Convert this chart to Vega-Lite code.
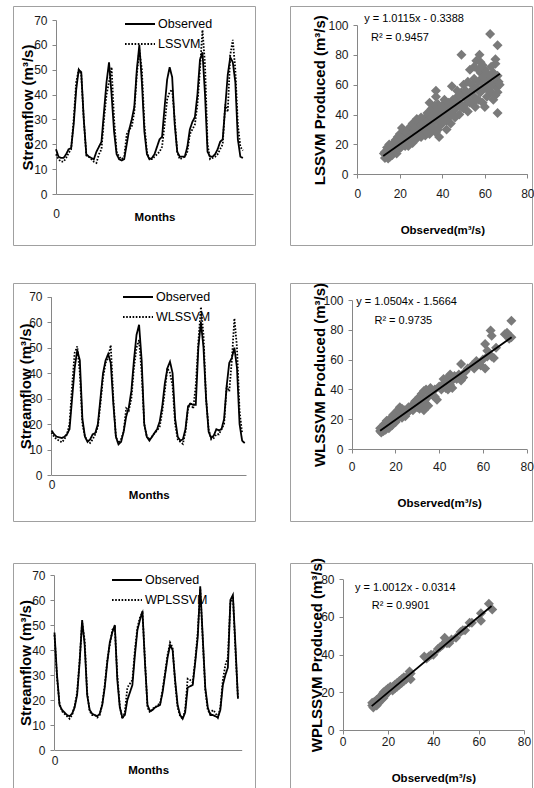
{
  "$schema": "https://vega.github.io/schema/vega-lite/v6.json",
  "padding": {"left": 12, "top": 5, "right": 0, "bottom": 0},
  "background": "white",
  "spacing": 35,
  "resolve": {"scale": {"strokeDash": "independent"}, "legend": {"strokeDash": "independent"}},
  "config": {
    "view": {"stroke": "#a0a0a0", "strokeWidth": 1},
    "font": "Liberation Sans, sans-serif",
    "axis": {
      "grid": false, "domainColor": "#868686", "tickColor": "#868686", "domainWidth": 1, "tickSize": 4, "tickWidth": 1,
      "labelFont": "Liberation Sans, sans-serif", "labelFontSize": 12, "labelColor": "#1a1a1a", "labelFlush": false, "labelPadding": 5,
      "titleFont": "Liberation Sans, sans-serif", "titleFontWeight": "bold", "titleFontSize": 15, "titleColor": "#000000"
    },
    "axisX": {"titleFontSize": 11.5},
    "legend": {
      "orient": "none", "title": null, "symbolType": "stroke", "symbolSize": 900, "symbolStrokeWidth": 1.8, "symbolStrokeColor": "#000000", "clipHeight": 14,
      "labelFont": "Liberation Sans, sans-serif", "labelFontSize": 12.5, "labelColor": "#000000", "rowPadding": 6, "padding": 0, "labelOffset": 2
    }
  },
  "datasets": {
    "ts1": [
      {"m":0,"Observed":18,"LSSVM":16},{"m":1,"Observed":15,"LSSVM":14},{"m":2,"Observed":14.5,"LSSVM":13},{"m":3,"Observed":14.5,"LSSVM":13},{"m":4,"Observed":16,"LSSVM":14.5},{"m":5,"Observed":18,"LSSVM":16.5},{"m":6,"Observed":18.5,"LSSVM":18},{"m":7,"Observed":28,"LSSVM":30},{"m":8,"Observed":42,"LSSVM":45},{"m":9,"Observed":50,"LSSVM":50},
      {"m":10,"Observed":49,"LSSVM":48},{"m":11,"Observed":30,"LSSVM":30},{"m":12,"Observed":16,"LSSVM":15.5},{"m":13,"Observed":15,"LSSVM":15},{"m":14,"Observed":14.5,"LSSVM":14},{"m":15,"Observed":14,"LSSVM":13},{"m":16,"Observed":17,"LSSVM":12.5},{"m":17,"Observed":19,"LSSVM":16},{"m":18,"Observed":21,"LSSVM":18},{"m":19,"Observed":33,"LSSVM":30},
      {"m":20,"Observed":45,"LSSVM":40},{"m":21,"Observed":53,"LSSVM":45},{"m":22,"Observed":40,"LSSVM":51},{"m":23,"Observed":25,"LSSVM":30},{"m":24,"Observed":16,"LSSVM":17},{"m":25,"Observed":14,"LSSVM":15},{"m":26,"Observed":13.5,"LSSVM":14},{"m":27,"Observed":14,"LSSVM":15},{"m":28,"Observed":20,"LSSVM":24},{"m":29,"Observed":26,"LSSVM":26},
      {"m":30,"Observed":30,"LSSVM":27},{"m":31,"Observed":35,"LSSVM":33},{"m":32,"Observed":50,"LSSVM":48},{"m":33,"Observed":60,"LSSVM":58},{"m":34,"Observed":45,"LSSVM":50},{"m":35,"Observed":25,"LSSVM":28},{"m":36,"Observed":16,"LSSVM":17},{"m":37,"Observed":14,"LSSVM":14},{"m":38,"Observed":14.5,"LSSVM":14},{"m":39,"Observed":16,"LSSVM":15},
      {"m":40,"Observed":19,"LSSVM":16},{"m":41,"Observed":22,"LSSVM":17},{"m":42,"Observed":23,"LSSVM":19},{"m":43,"Observed":35,"LSSVM":28},{"m":44,"Observed":46,"LSSVM":38},{"m":45,"Observed":51,"LSSVM":41},{"m":46,"Observed":47,"LSSVM":42},{"m":47,"Observed":28,"LSSVM":30},{"m":48,"Observed":17,"LSSVM":17},{"m":49,"Observed":15,"LSSVM":14},
      {"m":50,"Observed":15,"LSSVM":14.5},{"m":51,"Observed":15,"LSSVM":15},{"m":52,"Observed":19,"LSSVM":17},{"m":53,"Observed":26,"LSSVM":24},{"m":54,"Observed":29,"LSSVM":26},{"m":55,"Observed":31,"LSSVM":28},{"m":56,"Observed":40,"LSSVM":36},{"m":57,"Observed":54,"LSSVM":50},{"m":58,"Observed":57,"LSSVM":66},{"m":59,"Observed":40,"LSSVM":52},
      {"m":60,"Observed":17,"LSSVM":20},{"m":61,"Observed":15,"LSSVM":14},{"m":62,"Observed":15,"LSSVM":14.5},{"m":63,"Observed":16,"LSSVM":15},{"m":64,"Observed":18,"LSSVM":16},{"m":65,"Observed":21,"LSSVM":18},{"m":66,"Observed":22,"LSSVM":20},{"m":67,"Observed":35,"LSSVM":36},{"m":68,"Observed":48,"LSSVM":33},{"m":69,"Observed":55,"LSSVM":56},
      {"m":70,"Observed":53,"LSSVM":62},{"m":71,"Observed":45,"LSSVM":50},{"m":72,"Observed":22,"LSSVM":28},{"m":73,"Observed":15,"LSSVM":19},{"m":74,"Observed":14.5,"LSSVM":17.5}
    ],
    "ts3": [
      {"m":0,"Observed":17.5,"WLSSVM":16.7},{"m":1,"Observed":16,"WLSSVM":15},{"m":2,"Observed":15,"WLSSVM":14},{"m":3,"Observed":14.8,"WLSSVM":13.5},{"m":4,"Observed":14.5,"WLSSVM":12.8},{"m":5,"Observed":15,"WLSSVM":14},{"m":6,"Observed":16,"WLSSVM":16},{"m":7,"Observed":18,"WLSSVM":20},{"m":8,"Observed":30,"WLSSVM":35},{"m":9,"Observed":42,"WLSSVM":48},
      {"m":10,"Observed":49,"WLSSVM":50.5},{"m":11,"Observed":45,"WLSSVM":40},{"m":12,"Observed":22,"WLSSVM":20},{"m":13,"Observed":15,"WLSSVM":15},{"m":14,"Observed":13,"WLSSVM":13.5},{"m":15,"Observed":14,"WLSSVM":12.6},{"m":16,"Observed":16,"WLSSVM":14},{"m":17,"Observed":16.5,"WLSSVM":16},{"m":18,"Observed":20,"WLSSVM":19},{"m":19,"Observed":30,"WLSSVM":28},
      {"m":20,"Observed":40,"WLSSVM":38},{"m":21,"Observed":45,"WLSSVM":44},{"m":22,"Observed":47.5,"WLSSVM":46},{"m":23,"Observed":44,"WLSSVM":51},{"m":24,"Observed":28,"WLSSVM":30},{"m":25,"Observed":15,"WLSSVM":15},{"m":26,"Observed":12,"WLSSVM":12.5},{"m":27,"Observed":13,"WLSSVM":14},{"m":28,"Observed":17,"WLSSVM":17},{"m":29,"Observed":23,"WLSSVM":26.2},
      {"m":30,"Observed":26.5,"WLSSVM":25.3},{"m":31,"Observed":33,"WLSSVM":30},{"m":32,"Observed":45,"WLSSVM":42},{"m":33,"Observed":55,"WLSSVM":50},{"m":34,"Observed":59,"WLSSVM":53},{"m":35,"Observed":45,"WLSSVM":40},{"m":36,"Observed":20,"WLSSVM":20},{"m":37,"Observed":15,"WLSSVM":15},{"m":38,"Observed":13.5,"WLSSVM":14},{"m":39,"Observed":15,"WLSSVM":15},
      {"m":40,"Observed":16.5,"WLSSVM":16.5},{"m":41,"Observed":18,"WLSSVM":17.5},{"m":42,"Observed":21,"WLSSVM":19},{"m":43,"Observed":27,"WLSSVM":25},{"m":44,"Observed":36,"WLSSVM":33},{"m":45,"Observed":42,"WLSSVM":42},{"m":46,"Observed":44.5,"WLSSVM":40},{"m":47,"Observed":40,"WLSSVM":35},{"m":48,"Observed":22,"WLSSVM":20},{"m":49,"Observed":15,"WLSSVM":14},
      {"m":50,"Observed":13.5,"WLSSVM":13},{"m":51,"Observed":14,"WLSSVM":12.2},{"m":52,"Observed":18,"WLSSVM":17},{"m":53,"Observed":27,"WLSSVM":26},{"m":54,"Observed":28,"WLSSVM":28.5},{"m":55,"Observed":27.5,"WLSSVM":26},{"m":56,"Observed":27.5,"WLSSVM":35},{"m":57,"Observed":50,"WLSSVM":52},{"m":58,"Observed":60,"WLSSVM":66},{"m":59,"Observed":50,"WLSSVM":55},
      {"m":60,"Observed":30,"WLSSVM":30},{"m":61,"Observed":17,"WLSSVM":18},{"m":62,"Observed":14.5,"WLSSVM":14},{"m":63,"Observed":15.5,"WLSSVM":14.5},{"m":64,"Observed":18,"WLSSVM":16},{"m":65,"Observed":17.5,"WLSSVM":16},{"m":66,"Observed":18,"WLSSVM":18},{"m":67,"Observed":22,"WLSSVM":20},{"m":68,"Observed":35,"WLSSVM":35},{"m":69,"Observed":44,"WLSSVM":32.8},
      {"m":70,"Observed":46,"WLSSVM":45},{"m":71,"Observed":50,"WLSSVM":61.5},{"m":72,"Observed":42,"WLSSVM":50},{"m":73,"Observed":20,"WLSSVM":25},{"m":74,"Observed":13.5,"WLSSVM":16.4},{"m":75,"Observed":12.5}
    ],
    "ts5": [
      {"m":0,"Observed":47,"WPLSSVM":46},{"m":1,"Observed":30,"WPLSSVM":29},{"m":2,"Observed":18,"WPLSSVM":18.5},{"m":3,"Observed":16,"WPLSSVM":15.5},{"m":4,"Observed":15,"WPLSSVM":14.5},{"m":5,"Observed":14,"WPLSSVM":13.5},{"m":6,"Observed":13.5,"WPLSSVM":12.5},{"m":7,"Observed":14.5,"WPLSSVM":14},{"m":8,"Observed":17,"WPLSSVM":17.5},{"m":9,"Observed":22,"WPLSSVM":23},
      {"m":10,"Observed":35,"WPLSSVM":36},{"m":11,"Observed":52,"WPLSSVM":51},{"m":12,"Observed":42,"WPLSSVM":44},{"m":13,"Observed":22,"WPLSSVM":23},{"m":14,"Observed":16,"WPLSSVM":15.5},{"m":15,"Observed":14.5,"WPLSSVM":14},{"m":16,"Observed":14,"WPLSSVM":14},{"m":17,"Observed":13.5,"WPLSSVM":13},{"m":18,"Observed":14.5,"WPLSSVM":14},{"m":19,"Observed":18,"WPLSSVM":18.5},
      {"m":20,"Observed":25,"WPLSSVM":26},{"m":21,"Observed":35,"WPLSSVM":36},{"m":22,"Observed":43,"WPLSSVM":42},{"m":23,"Observed":47,"WPLSSVM":48},{"m":24,"Observed":50,"WPLSSVM":49},{"m":25,"Observed":28,"WPLSSVM":30},{"m":26,"Observed":17,"WPLSSVM":17.5},{"m":27,"Observed":13,"WPLSSVM":12.5},{"m":28,"Observed":14,"WPLSSVM":15},{"m":29,"Observed":20,"WPLSSVM":25},
      {"m":30,"Observed":23,"WPLSSVM":26.5},{"m":31,"Observed":26,"WPLSSVM":28},{"m":32,"Observed":38,"WPLSSVM":40},{"m":33,"Observed":48,"WPLSSVM":49},{"m":34,"Observed":52,"WPLSSVM":53},{"m":35,"Observed":55.5,"WPLSSVM":55},{"m":36,"Observed":35,"WPLSSVM":36},{"m":37,"Observed":18,"WPLSSVM":17},{"m":38,"Observed":15.5,"WPLSSVM":15},{"m":39,"Observed":16,"WPLSSVM":16.5},
      {"m":40,"Observed":17,"WPLSSVM":17},{"m":41,"Observed":17.5,"WPLSSVM":18},{"m":42,"Observed":18,"WPLSSVM":18.5},{"m":43,"Observed":23,"WPLSSVM":24},{"m":44,"Observed":30,"WPLSSVM":31},{"m":45,"Observed":37,"WPLSSVM":38},{"m":46,"Observed":42,"WPLSSVM":43},{"m":47,"Observed":40,"WPLSSVM":41},{"m":48,"Observed":28,"WPLSSVM":27},{"m":49,"Observed":18,"WPLSSVM":17},
      {"m":50,"Observed":14,"WPLSSVM":13.5},{"m":51,"Observed":12.5,"WPLSSVM":12.5},{"m":52,"Observed":15,"WPLSSVM":16},{"m":53,"Observed":25,"WPLSSVM":28.5},{"m":54,"Observed":25.5,"WPLSSVM":28},{"m":55,"Observed":26,"WPLSSVM":27},{"m":56,"Observed":35,"WPLSSVM":36},{"m":57,"Observed":45,"WPLSSVM":47},{"m":58,"Observed":65.5,"WPLSSVM":64.5},{"m":59,"Observed":45,"WPLSSVM":44},
      {"m":60,"Observed":25,"WPLSSVM":24},{"m":61,"Observed":17,"WPLSSVM":16},{"m":62,"Observed":14,"WPLSSVM":14.5},{"m":63,"Observed":14,"WPLSSVM":16},{"m":64,"Observed":13.5,"WPLSSVM":15},{"m":65,"Observed":13,"WPLSSVM":13},{"m":66,"Observed":16,"WPLSSVM":17},{"m":67,"Observed":26,"WPLSSVM":28},{"m":68,"Observed":30,"WPLSSVM":34},{"m":69,"Observed":33,"WPLSSVM":37},
      {"m":70,"Observed":60,"WPLSSVM":59},{"m":71,"Observed":62,"WPLSSVM":61.5},{"m":72,"Observed":42,"WPLSSVM":40},{"m":73,"Observed":20.5,"WPLSSVM":21}
    ],
    "sc2": [
      {"o":12.5,"p":14},{"o":13,"p":11},{"o":13,"p":15},{"o":13.5,"p":13},{"o":14,"p":12},{"o":14,"p":16},{"o":14,"p":18},{"o":14.5,"p":10.5},{"o":15,"p":14},{"o":15,"p":17},{"o":15,"p":20},{"o":15.5,"p":12},{"o":16,"p":15},{"o":16,"p":19},{"o":16.5,"p":13},{"o":17,"p":17},{"o":17,"p":21},{"o":17.5,"p":15},{"o":18,"p":18},{"o":18,"p":23},
      {"o":18.5,"p":14},{"o":19,"p":20},{"o":19,"p":25},{"o":19.5,"p":17},{"o":20,"p":22},{"o":20,"p":27},{"o":20.5,"p":18},{"o":21,"p":24},{"o":21,"p":31},{"o":21.5,"p":20},{"o":22,"p":26},{"o":22,"p":29},{"o":22.5,"p":19},{"o":23,"p":24},{"o":23.5,"p":28},{"o":24,"p":22},{"o":24,"p":30},{"o":25,"p":26},{"o":25,"p":32},{"o":25.5,"p":23},
      {"o":26,"p":28},{"o":26,"p":34},{"o":27,"p":25},{"o":27,"p":30},{"o":28,"p":32},{"o":28,"p":37},{"o":28.5,"p":27},{"o":29,"p":34},{"o":29.5,"p":30},{"o":30,"p":33},{"o":30,"p":38},{"o":30.5,"p":28},{"o":31,"p":35},{"o":31.5,"p":31},{"o":32,"p":38},{"o":32,"p":29},{"o":33,"p":36},{"o":33,"p":41},{"o":34,"p":33},{"o":34,"p":48},
      {"o":34.5,"p":38},{"o":35,"p":44},{"o":35,"p":30},{"o":36,"p":40},{"o":36,"p":35},{"o":36.5,"p":46},{"o":37,"p":56},{"o":37,"p":52},{"o":37,"p":28},{"o":37.5,"p":42},{"o":38,"p":37},{"o":38,"p":47},{"o":38.5,"p":25},{"o":39,"p":44},{"o":39,"p":33},{"o":40,"p":40},{"o":40,"p":46},{"o":41,"p":36},{"o":41,"p":50},{"o":42,"p":30},
      {"o":42,"p":43},{"o":43,"p":48},{"o":43,"p":38},{"o":44,"p":46},{"o":44,"p":34},{"o":44.5,"p":59},{"o":45,"p":50},{"o":45,"p":42},{"o":46,"p":38},{"o":47,"p":52},{"o":47,"p":45},{"o":48,"p":48},{"o":48,"p":40},{"o":49,"p":80},{"o":49,"p":55},{"o":50,"p":52},{"o":50,"p":44},{"o":51,"p":56},{"o":51,"p":47},{"o":52,"p":50},
      {"o":52,"p":42},{"o":53,"p":70},{"o":53,"p":55},{"o":54,"p":48},{"o":54,"p":60},{"o":55,"p":72},{"o":55,"p":52},{"o":55.5,"p":45},{"o":56,"p":76},{"o":56,"p":58},{"o":57,"p":62},{"o":57,"p":50},{"o":57.5,"p":80},{"o":58,"p":68},{"o":58,"p":55},{"o":59,"p":65},{"o":59,"p":48},{"o":60,"p":58},{"o":60,"p":45},{"o":60,"p":70},
      {"o":61,"p":62},{"o":61,"p":52},{"o":62,"p":60},{"o":62.5,"p":94},{"o":63,"p":66},{"o":63,"p":55},{"o":64,"p":60},{"o":64,"p":50},{"o":65,"p":77},{"o":65,"p":74},{"o":65,"p":53},{"o":65.5,"p":58},{"o":66,"p":86.5},{"o":66,"p":55},{"o":66,"p":41},{"o":66.5,"p":62},{"o":67,"p":60},
      {"o":46,"p":48},{"o":47,"p":56},{"o":48,"p":53},{"o":49,"p":45},{"o":50,"p":60},{"o":51,"p":52},{"o":52,"p":62},{"o":53,"p":48},{"o":54,"p":56},{"o":55,"p":64},{"o":56,"p":50},{"o":57,"p":56},{"o":58,"p":62},{"o":59,"p":58},{"o":60,"p":64},{"o":61,"p":57},{"o":62,"p":66},{"o":63,"p":60},{"o":64,"p":68},{"o":65,"p":64},
      {"o":66,"p":66},{"o":63,"p":72},{"o":61,"p":68},{"o":44,"p":40},{"o":42,"p":36},{"o":40,"p":34},{"o":38,"p":30},{"o":36,"p":31},{"o":34,"p":27},{"o":32,"p":26},{"o":30,"p":25},{"o":28,"p":24},{"o":26,"p":21},{"o":24,"p":19},{"o":58,"p":75},{"o":59,"p":73},{"o":57,"p":70}
    ],
    "sc4": [
      {"o":13,"p":12},{"o":13,"p":14},{"o":13.5,"p":11},{"o":14,"p":13},{"o":14,"p":15},{"o":14.5,"p":12},{"o":15,"p":14},{"o":15,"p":17},{"o":15.5,"p":13},{"o":16,"p":16},{"o":16,"p":19},{"o":16.5,"p":15},{"o":17,"p":18},{"o":17,"p":14},{"o":17.5,"p":20},{"o":18,"p":17},{"o":18,"p":21},{"o":18.5,"p":16},{"o":19,"p":19},{"o":19,"p":23},
      {"o":20,"p":18},{"o":20,"p":21},{"o":20.5,"p":24},{"o":21,"p":20},{"o":21,"p":26},{"o":22,"p":28},{"o":22,"p":22},{"o":22.5,"p":25},{"o":23,"p":27},{"o":23,"p":21},{"o":24,"p":26},{"o":24.5,"p":22},{"o":25,"p":24},{"o":26,"p":28},{"o":26,"p":25},{"o":27,"p":27},{"o":28,"p":30},{"o":28,"p":26},{"o":29,"p":32},{"o":29,"p":29},
      {"o":30,"p":33},{"o":30,"p":28},{"o":31,"p":35},{"o":31,"p":27},{"o":32,"p":30},{"o":32,"p":37},{"o":33,"p":39},{"o":33,"p":26},{"o":33.5,"p":33},{"o":34,"p":40},{"o":34,"p":30},{"o":35,"p":35},{"o":35,"p":29},{"o":36,"p":38},{"o":36,"p":41},{"o":37,"p":36},{"o":38,"p":35},{"o":38,"p":40},{"o":39,"p":33},{"o":40,"p":42},
      {"o":41,"p":40},{"o":42,"p":47},{"o":42,"p":44},{"o":43,"p":46},{"o":43,"p":41},{"o":44,"p":48},{"o":44,"p":40},{"o":45,"p":43},{"o":45,"p":50},{"o":46,"p":46},{"o":46,"p":41},{"o":47,"p":49},{"o":48,"p":47},{"o":49,"p":50},{"o":50,"p":57},{"o":50,"p":46},{"o":51,"p":48},{"o":52,"p":52},{"o":53,"p":54},{"o":55,"p":56},
      {"o":56,"p":54},{"o":57,"p":59},{"o":58,"p":57},{"o":59,"p":56},{"o":60,"p":60},{"o":61,"p":54},{"o":61,"p":70.5},{"o":62,"p":66},{"o":62,"p":62},{"o":63.5,"p":79.5},{"o":64,"p":76},{"o":64,"p":62},{"o":65,"p":61},{"o":66,"p":68},{"o":70,"p":77},{"o":71,"p":78},{"o":72,"p":74},{"o":73,"p":86},{"o":73,"p":75}
    ],
    "sc6": [
      {"o":13,"p":13},{"o":13,"p":14.5},{"o":13.5,"p":12},{"o":14,"p":13},{"o":14,"p":15},{"o":14.5,"p":14},{"o":15,"p":13},{"o":15,"p":16},{"o":15.5,"p":15},{"o":16,"p":17},{"o":16,"p":14.5},{"o":16.5,"p":16},{"o":17,"p":18},{"o":17,"p":16},{"o":17.5,"p":19},{"o":18,"p":17},{"o":18,"p":20},{"o":18.5,"p":18},{"o":19,"p":19},{"o":19,"p":21},
      {"o":20,"p":20},{"o":20,"p":22},{"o":20.5,"p":21},{"o":21,"p":23},{"o":22,"p":21},{"o":22,"p":23},{"o":23,"p":24},{"o":23,"p":22},{"o":24,"p":25},{"o":24,"p":23},{"o":25,"p":26},{"o":25,"p":24},{"o":26,"p":25},{"o":26,"p":27},{"o":27,"p":26},{"o":27,"p":28},{"o":28,"p":27},{"o":29,"p":29},{"o":29.5,"p":31},{"o":30,"p":27},
      {"o":30,"p":30},{"o":36,"p":39},{"o":37,"p":38},{"o":38,"p":39},{"o":39,"p":40},{"o":40,"p":40},{"o":42,"p":43},{"o":43,"p":44},{"o":44,"p":45},{"o":45,"p":49},{"o":45.5,"p":47},{"o":46,"p":46},{"o":47,"p":46},{"o":48,"p":48},{"o":50,"p":49},{"o":52,"p":52},{"o":53,"p":53},{"o":54,"p":53},{"o":56,"p":57},{"o":57,"p":57},
      {"o":61,"p":58},{"o":61,"p":62},{"o":64.5,"p":67},{"o":66,"p":64}
    ],
    "tl2": [{"o":12.2,"p":12.3},{"o":67.1,"p":67.4}],
    "tl4": [{"o":13,"p":12.3},{"o":73.1,"p":75}],
    "tl6": [{"o":12.8,"p":12.7},{"o":65.7,"p":65.8}]
  },
  "vconcat": [
    {
      "spacing": 33,
      "resolve": {"scale": {"strokeDash": "independent"}, "legend": {"strokeDash": "independent"}},
      "hconcat": [
        {
          "width": 242, "height": 239,
          "data": {"name": "ts1"},
          "transform": [{"fold": ["Observed", "LSSVM"], "as": ["series", "flow"]}],
          "mark": {"type": "line", "color": "#000000", "strokeWidth": 1.8},
          "encoding": {
            "x": {"field": "m", "type": "quantitative", "title": "Months",
              "scale": {"domain": [0, 78], "range": [43, 240], "nice": false, "zero": false},
              "axis": {"values": [0], "ticks": false, "offset": -51, "labelPadding": 14.7, "titlePadding": -8.7}},
            "y": {"field": "flow", "type": "quantitative", "title": "Streamflow (m³/s)",
              "scale": {"domain": [0, 70], "range": [188, 14], "nice": false},
              "axis": {"values": [0, 10, 20, 30, 40, 50, 60, 70], "offset": -43, "titlePadding": -1.5}},
            "strokeDash": {"field": "series", "type": "nominal",
              "scale": {"domain": ["Observed", "LSSVM"], "range": [[1, 0], [1.6, 1.6]]},
              "legend": {"legendX": 111, "legendY": 11}}
          }
        },
        {
          "width": 242, "height": 239,
          "layer": [
            {
              "data": {"name": "sc2"},
              "mark": {"type": "point", "shape": "diamond", "filled": true, "size": 100, "color": "#7a7a7a", "opacity": 1},
              "encoding": {
                "x": {"field": "o", "type": "quantitative", "title": "Observed(m³/s)",
                  "scale": {"domain": [0, 80], "range": [67.3, 237.3], "nice": false},
                  "axis": {"values": [0, 20, 40, 60, 80], "offset": -71, "labelPadding": 10, "titlePadding": 25.5}},
                "y": {"field": "p", "type": "quantitative", "title": "LSSVM Produced (m³/s)",
                  "scale": {"domain": [0, 100], "range": [168.3, 19], "nice": false},
                  "axis": {"values": [0, 20, 40, 60, 80, 100], "offset": -67, "titlePadding": 0.5}}
              }
            },
            {
              "data": {"name": "tl2"},
              "mark": {"type": "line", "color": "#000000", "strokeWidth": 1.8},
              "encoding": {
                "x": {"field": "o", "type": "quantitative", "title": "Observed(m³/s)"},
                "y": {"field": "p", "type": "quantitative", "title": "LSSVM Produced (m³/s)"}
              }
            },
            {
              "data": {"values": [{"t": "y = 1.0115x - 0.3388"}]},
              "mark": {"type": "text", "fontSize": 11, "color": "#000000", "align": "center", "baseline": "middle"},
              "encoding": {
                "x": {"datum": 26.7, "type": "quantitative", "title": "Observed(m³/s)"},
                "y": {"datum": 103.8, "type": "quantitative", "title": "LSSVM Produced (m³/s)"},
                "text": {"field": "t"}
              }
            },
            {
              "data": {"values": [{"t": "R² = 0.9457"}]},
              "mark": {"type": "text", "fontSize": 11, "color": "#000000", "align": "center", "baseline": "middle"},
              "encoding": {
                "x": {"datum": 20.1, "type": "quantitative", "title": "Observed(m³/s)"},
                "y": {"datum": 91.5, "type": "quantitative", "title": "LSSVM Produced (m³/s)"},
                "text": {"field": "t"}
              }
            }
          ]
        }
      ]
    },
    {
      "spacing": 33,
      "resolve": {"scale": {"strokeDash": "independent"}, "legend": {"strokeDash": "independent"}},
      "hconcat": [
        {
          "width": 242, "height": 238,
          "data": {"name": "ts3"},
          "transform": [{"fold": ["Observed", "WLSSVM"], "as": ["series", "flow"]}],
          "mark": {"type": "line", "color": "#000000", "strokeWidth": 1.8},
          "encoding": {
            "x": {"field": "m", "type": "quantitative", "title": "Months",
              "scale": {"domain": [0, 75.5], "range": [38.5, 233], "nice": false, "zero": false},
              "axis": {"values": [0], "ticks": false, "offset": -46, "labelPadding": 4.7, "titlePadding": -1.7}},
            "y": {"field": "flow", "type": "quantitative", "title": "Streamflow (m³/s)",
              "scale": {"domain": [0, 70], "range": [192, 13.7], "nice": false},
              "axis": {"values": [0, 10, 20, 30, 40, 50, 60, 70], "offset": -38, "titlePadding": -4.8}},
            "strokeDash": {"field": "series", "type": "nominal",
              "scale": {"domain": ["Observed", "WLSSVM"], "range": [[1, 0], [1.6, 1.6]]},
              "legend": {"legendX": 109, "legendY": 7}}
          }
        },
        {
          "width": 242, "height": 238,
          "layer": [
            {
              "data": {"name": "sc4"},
              "mark": {"type": "point", "shape": "diamond", "filled": true, "size": 100, "color": "#7a7a7a", "opacity": 1},
              "encoding": {
                "x": {"field": "o", "type": "quantitative", "title": "Observed(m³/s)",
                  "scale": {"domain": [0, 80], "range": [61.7, 236.7], "nice": false},
                  "axis": {"values": [0, 20, 40, 60, 80], "offset": -72, "labelPadding": 8.3, "titlePadding": 25.2}},
                "y": {"field": "p", "type": "quantitative", "title": "WLSSVM Produced (m³/s)",
                  "scale": {"domain": [0, 100], "range": [166, 17], "nice": false},
                  "axis": {"values": [0, 20, 40, 60, 80, 100], "offset": -62, "titlePadding": -4.1}}
              }
            },
            {
              "data": {"name": "tl4"},
              "mark": {"type": "line", "color": "#000000", "strokeWidth": 1.8},
              "encoding": {
                "x": {"field": "o", "type": "quantitative", "title": "Observed(m³/s)"},
                "y": {"field": "p", "type": "quantitative", "title": "WLSSVM Produced (m³/s)"}
              }
            },
            {
              "data": {"values": [{"t": "y = 1.0504x - 1.5664"}]},
              "mark": {"type": "text", "fontSize": 11, "color": "#000000", "align": "center", "baseline": "middle"},
              "encoding": {
                "x": {"datum": 25.1, "type": "quantitative", "title": "Observed(m³/s)"},
                "y": {"datum": 98.4, "type": "quantitative", "title": "WLSSVM Produced (m³/s)"},
                "text": {"field": "t"}
              }
            },
            {
              "data": {"values": [{"t": "R² = 0.9735"}]},
              "mark": {"type": "text", "fontSize": 11, "color": "#000000", "align": "center", "baseline": "middle"},
              "encoding": {
                "x": {"datum": 23.6, "type": "quantitative", "title": "Observed(m³/s)"},
                "y": {"datum": 86.1, "type": "quantitative", "title": "WLSSVM Produced (m³/s)"},
                "text": {"field": "t"}
              }
            }
          ]
        }
      ]
    },
    {
      "spacing": 33,
      "resolve": {"scale": {"strokeDash": "independent"}, "legend": {"strokeDash": "independent"}},
      "hconcat": [
        {
          "width": 242, "height": 235,
          "data": {"name": "ts5"},
          "transform": [{"fold": ["Observed", "WPLSSVM"], "as": ["series", "flow"]}],
          "mark": {"type": "line", "color": "#000000", "strokeWidth": 1.8},
          "encoding": {
            "x": {"field": "m", "type": "quantitative", "title": "Months",
              "scale": {"domain": [0, 74.5], "range": [41.5, 228.7], "nice": false, "zero": false},
              "axis": {"values": [0], "ticks": false, "offset": -48, "labelPadding": 5, "titlePadding": -2}},
            "y": {"field": "flow", "type": "quantitative", "title": "Streamflow (m³/s)",
              "scale": {"domain": [0, 70], "range": [187, 12], "nice": false},
              "axis": {"values": [0, 10, 20, 30, 40, 50, 60, 70], "offset": -41, "titlePadding": -1.8}},
            "strokeDash": {"field": "series", "type": "nominal",
              "scale": {"domain": ["Observed", "WPLSSVM"], "range": [[1, 0], [1.6, 1.6]]},
              "legend": {"legendX": 98, "legendY": 10}}
          }
        },
        {
          "width": 242, "height": 235,
          "layer": [
            {
              "data": {"name": "sc6"},
              "mark": {"type": "point", "shape": "diamond", "filled": true, "size": 100, "color": "#7a7a7a", "opacity": 1},
              "encoding": {
                "x": {"field": "o", "type": "quantitative", "title": "Observed(m³/s)",
                  "scale": {"domain": [0, 80], "range": [52.7, 234], "nice": false},
                  "axis": {"values": [0, 20, 40, 60, 80], "offset": -68, "labelPadding": 2.7, "titlePadding": 24.8}},
                "y": {"field": "p", "type": "quantitative", "title": "WPLSSVM Produced (m³/s)",
                  "scale": {"domain": [0, 80], "range": [167, 16.3], "nice": false},
                  "axis": {"values": [0, 20, 40, 60, 80], "offset": -53, "titlePadding": -3.8}}
              }
            },
            {
              "data": {"name": "tl6"},
              "mark": {"type": "line", "color": "#000000", "strokeWidth": 1.8},
              "encoding": {
                "x": {"field": "o", "type": "quantitative", "title": "Observed(m³/s)"},
                "y": {"field": "p", "type": "quantitative", "title": "WPLSSVM Produced (m³/s)"}
              }
            },
            {
              "data": {"values": [{"t": "y = 1.0012x - 0.0314"}]},
              "mark": {"type": "text", "fontSize": 11, "color": "#000000", "align": "center", "baseline": "middle"},
              "encoding": {
                "x": {"datum": 27.6, "type": "quantitative", "title": "Observed(m³/s)"},
                "y": {"datum": 75.6, "type": "quantitative", "title": "WPLSSVM Produced (m³/s)"},
                "text": {"field": "t"}
              }
            },
            {
              "data": {"values": [{"t": "R² = 0.9901"}]},
              "mark": {"type": "text", "fontSize": 11, "color": "#000000", "align": "center", "baseline": "middle"},
              "encoding": {
                "x": {"datum": 25.6, "type": "quantitative", "title": "Observed(m³/s)"},
                "y": {"datum": 65.8, "type": "quantitative", "title": "WPLSSVM Produced (m³/s)"},
                "text": {"field": "t"}
              }
            }
          ]
        }
      ]
    }
  ]
}
